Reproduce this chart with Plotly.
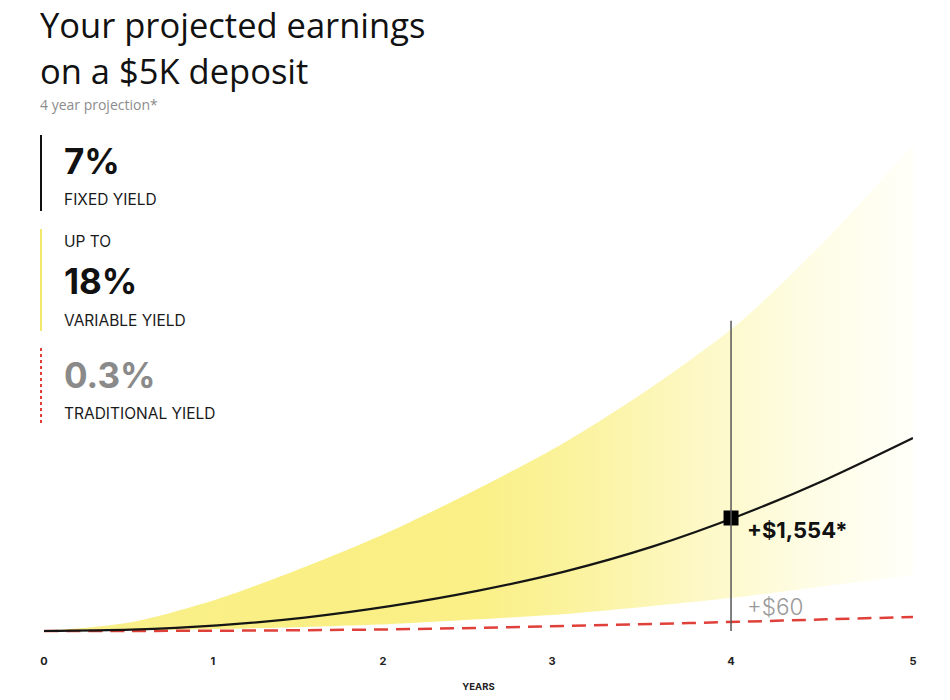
import numpy as np
import plotly.graph_objects as go

# ---------------- data ----------------
years = [0, 0.5, 1, 1.5, 2, 2.5, 3, 3.5, 4, 4.5, 5]
fixed_earnings = [0, 18, 78, 185, 345, 555, 820, 1160, 1585, 2085, 2654]
variable_upper = [0, 120, 440, 880, 1380, 1960, 2600, 3360, 4240, 5380, 6683]
variable_lower = [0, 8, 27, 55, 96, 160, 234, 344, 467, 620, 770]
traditional_earnings = [0, 1, 4, 11, 23, 43, 69, 96, 127, 160, 193]

tick_labels = ["0", "1", "2", "3", "4", "5"]
tick_pos = [0, 0.972, 1.951, 2.923, 3.953, 5.0]

highlight_idx = 4            # "year 4" projection
fixed_label_value = 1554
traditional_label_value = 60

# ---------------- layout helpers ----------------
# body margin is removed by post_script, so screen px == figure px
W, H = 950, 700
PL = 44                 # plot area left  (screen px 44)
PR = W - 913            # plot area right (screen px 913)
PT = 100                # plot area top   (screen px 100)
PB = H - 650            # plot area bottom(screen px 650)


def xp(sx):
    """screen x (px) -> paper x"""
    return (sx - PL) / (W - PL - PR)


def yp(sy):
    """screen y (px) -> paper y"""
    return (H - PB - sy) / (H - PT - PB)


PX_PER_DOLLAR = 113 / 1554.0
plot_h = H - PT - PB
y_min = -(650 - 631) / PX_PER_DOLLAR
y_max = y_min + plot_h / PX_PER_DOLLAR

hx = tick_pos[highlight_idx]
trad_at_h = float(np.interp(hx, years, traditional_earnings))
upper_at_h = float(np.interp(hx, years, variable_upper))

fig = go.Figure()

# variable yield band (lower edge, then upper edge filled to it)
fig.add_trace(go.Scatter(
    x=years, y=variable_lower, mode="lines",
    line=dict(width=0, shape="spline", smoothing=0.8, color="rgba(0,0,0,0)"),
    hoverinfo="skip"))
fig.add_trace(go.Scatter(
    x=years, y=variable_upper, mode="lines", fill="tonexty",
    line=dict(width=0, shape="spline", smoothing=0.8, color="rgba(0,0,0,0)"),
    fillgradient=dict(
        type="horizontal", start=0, stop=5,
        colorscale=[
            [0.0, "rgb(249,240,140)"],
            [0.3, "rgb(249,239,132)"],
            [0.5, "rgb(250,240,135)"],
            [0.62, "rgb(251,243,160)"],
            [0.75, "rgb(253,248,196)"],
            [0.87, "rgb(254,252,226)"],
            [1.0, "rgb(255,255,249)"],
        ]),
    hoverinfo="skip"))

# traditional yield
fig.add_trace(go.Scatter(
    x=years, y=traditional_earnings, mode="lines",
    line=dict(color="#e0403a", width=2.5, dash="14px,8px", shape="spline"),
    hoverinfo="skip"))

# fixed yield
fig.add_trace(go.Scatter(
    x=years, y=fixed_earnings, mode="lines",
    line=dict(color="#151515", width=2.2, shape="spline", smoothing=0.8),
    hoverinfo="skip"))

# vertical reference line at year 4
fig.add_shape(type="line", xref="x", yref="y", x0=hx, x1=hx,
              y0=0, y1=upper_at_h + 110,
              line=dict(color="#555555", width=1.5))

# highlight marker
fig.add_trace(go.Scatter(
    x=[hx], y=[fixed_label_value], mode="markers",
    marker=dict(symbol="square", size=15, color="#000000"),
    cliponaxis=False, hoverinfo="skip"))

fig.add_annotation(x=hx, y=fixed_label_value, xref="x", yref="y",
                   text=f"<b>+${fixed_label_value:,}*</b>", showarrow=False,
                   xanchor="left", yanchor="middle", xshift=14, yshift=-12,
                   font=dict(family="Inter", size=22, color="#111111"))
fig.add_annotation(x=hx, y=trad_at_h, xref="x", yref="y",
                   text=f"+${traditional_label_value}", showarrow=False,
                   xanchor="left", yanchor="middle", xshift=14, yshift=15,
                   font=dict(family="Inter", size=22.5, color="#9a9a9a",
                             weight=300))

# ---------------- title & subtitle ----------------
TITLE_FONT = "Open Sans"
fig.add_annotation(x=xp(38), y=yp(24.5), xref="paper", yref="paper",
                   text="Your projected earnings", showarrow=False,
                   xanchor="left", yanchor="middle",
                   font=dict(family=TITLE_FONT, size=34.5, color="#111111"))
fig.add_annotation(x=xp(38), y=yp(70), xref="paper", yref="paper",
                   text="on a $5K deposit", showarrow=False,
                   xanchor="left", yanchor="middle",
                   font=dict(family=TITLE_FONT, size=34.5, color="#111111"))
fig.add_annotation(x=xp(38), y=yp(104), xref="paper", yref="paper",
                   text="4 year projection*", showarrow=False,
                   xanchor="left", yanchor="middle",
                   font=dict(family=TITLE_FONT, size=14, color="#8c8c8c"))

# ---------------- side legend ----------------
LEG_FONT = "Inter"
fig.add_shape(type="line", xref="paper", yref="paper",
              x0=xp(41), x1=xp(41), y0=yp(135), y1=yp(211),
              line=dict(color="#111111", width=2))
fig.add_shape(type="line", xref="paper", yref="paper",
              x0=xp(41), x1=xp(41), y0=yp(229), y1=yp(331),
              line=dict(color="#f2e96a", width=2))
fig.add_shape(type="line", xref="paper", yref="paper",
              x0=xp(41), x1=xp(41), y0=yp(348), y1=yp(425),
              line=dict(color="#e0403a", width=2, dash="3px,3px"))

legend_items = [
    ("<b>7%</b>", 161, 35, "#111111"),
    ("FIXED YIELD", 200, 15.5, "#1a1a1a"),
    ("UP TO", 241, 15.5, "#1a1a1a"),
    ("<b>18%</b>", 281, 35, "#111111"),
    ("VARIABLE YIELD", 320, 15.5, "#1a1a1a"),
    ("<b>0.3%</b>", 375, 35, "#8a8a8a"),
    ("TRADITIONAL YIELD", 413, 15.5, "#1a1a1a"),
]
for txt, ypix, fs, col in legend_items:
    fig.add_annotation(x=xp(62), y=yp(ypix), xref="paper", yref="paper",
                       text=txt, showarrow=False, xanchor="left",
                       yanchor="middle",
                       font=dict(family=LEG_FONT, size=fs, color=col))

# ---------------- axes ----------------
fig.update_xaxes(range=[0, 5], tickvals=tick_pos, ticktext=tick_labels,
                 showgrid=False, zeroline=False, showline=False, ticks="",
                 automargin=False, ticklabelstandoff=3,
                 tickfont=dict(family=LEG_FONT, size=11, color="#222222",
                               weight="bold"),
                 title=dict(text="<b>YEARS</b>", standoff=16,
                            font=dict(family=LEG_FONT, size=9.5,
                                      color="#222222")))
fig.update_yaxes(range=[y_min, y_max], visible=False, automargin=False)

fig.update_layout(width=W, height=H,
                  margin=dict(l=PL, r=PR, t=PT, b=PB, autoexpand=False),
                  plot_bgcolor="white", paper_bgcolor="white",
                  showlegend=False)

fig.write_html(
    "out.html",
    config={"displayModeBar": False},
    post_script="document.body.style.margin='0';"
                "document.body.style.overflow='hidden';")
